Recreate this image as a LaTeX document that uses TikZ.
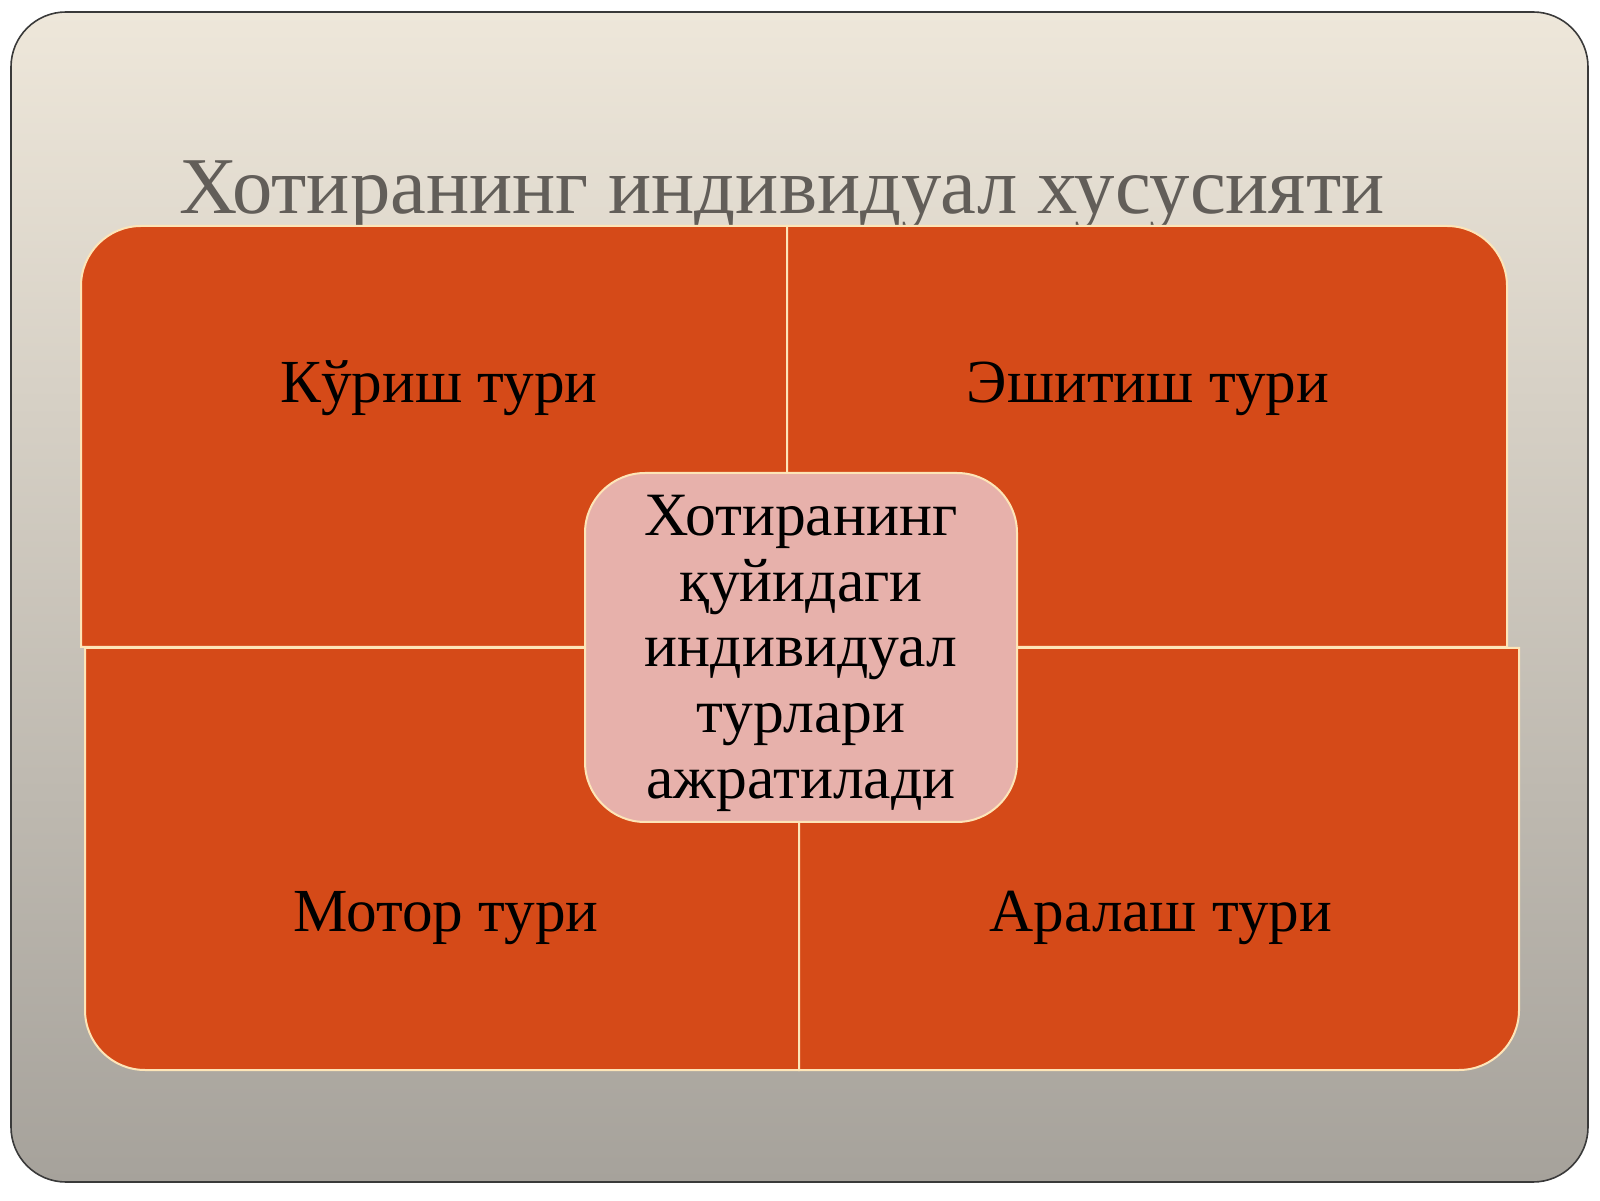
\documentclass[tikz,border=0pt]{standalone}
\usepackage{fontspec}
\setmainfont{Liberation Serif}
\definecolor{slidetop}{HTML}{EEE7DA}
\definecolor{slidebot}{HTML}{A6A29B}
\definecolor{slideline}{HTML}{3A3A3A}
\definecolor{quadfill}{HTML}{D54A18}
\definecolor{quadline}{HTML}{FDE5B8}
\definecolor{corefill}{HTML}{E7B1AB}
\definecolor{titlegray}{HTML}{625E59}
\begin{document}
\begin{tikzpicture}[x=0.5pt,y=0.5pt,
  quad/.style={fill=quadfill, draw=quadline, line width=1pt},
  qlabel/.style={anchor=base, inner sep=0pt, text=black, font=\fontsize{30.6}{36}\selectfont},
  corebox/.style={rectangle, rounded corners=30pt, fill=corefill, draw=quadline, line width=1pt,
    minimum width=216pt, minimum height=174.5pt, inner sep=0pt, align=center,
    text=black, font=\fontsize{30.8}{32.8}\selectfont},
  titlestyle/.style={anchor=base west, inner sep=0pt, text=titlegray, font=\fontsize{40.3}{44}\selectfont}]
\useasboundingbox (0,0) rectangle (1600,1200);
\fill[white] (0,0) rectangle (1600,1200);
% slide frame
\shadedraw[top color=slidetop, bottom color=slidebot, draw=slideline, line width=0.8pt, rounded corners=27.5pt]
  (11,18) rectangle (1588,1188);
% title
\node[titlestyle] (title) at (179,986) {Хотиранинг индивидуал хусусияти};
% quadrants
\draw[quad] (787,553) -- (81,553) -- (81,914) arc[start angle=180, end angle=90, radius=60] -- (787,974) -- cycle;
\draw[quad] (787,553) -- (787,974) -- (1447,974) arc[start angle=90, end angle=0, radius=60] -- (1507,553) -- cycle;
\draw[quad] (799,552) -- (85,552) -- (85,190) arc[start angle=180, end angle=270, radius=60] -- (799,130) -- cycle;
\draw[quad] (799,552) -- (1519,552) -- (1519,190) arc[start angle=0, end angle=-90, radius=60] -- (799,130) -- cycle;
% labels
\node[qlabel] (visual) at (439,797) {Кўриш тури};
\node[qlabel] (audio) at (1148,797) {Эшитиш тури};
\node[qlabel] (motor) at (446,269) {Мотор тури};
\node[qlabel] (mixed) at (1161,269) {Аралаш тури};
% centre
\node[corebox] (core) at (801,552.5) {\rule{0pt}{26pt}Хотиранинг\\қуйидаги\\индивидуал\\турлари\\ажратилади};
\end{tikzpicture}
\end{document}
